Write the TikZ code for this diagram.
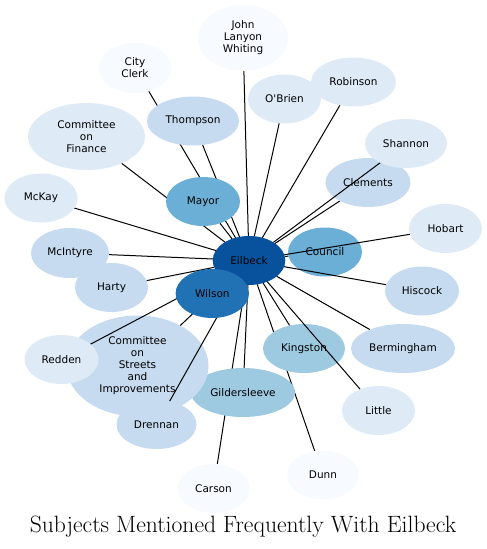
\documentclass[tikz,border=0pt]{standalone}
\usepackage{fontspec}
\newfontfamily\nodefont{DejaVu Sans}
\usetikzlibrary{shapes.geometric}
\definecolor{bA}{RGB}{247,251,255}
\definecolor{bB}{RGB}{222,235,247}
\definecolor{bC}{RGB}{198,219,239}
\definecolor{bD}{RGB}{158,202,225}
\definecolor{bE}{RGB}{107,174,214}
\definecolor{bF}{RGB}{33,113,181}
\definecolor{bG}{RGB}{8,81,156}
\tikzset{
  shp/.style={ellipse, inner sep=0pt, outer sep=0pt, draw=none},
  sz/.style 2 args={minimum width=#1*2pt, minimum height=#2*2pt},
  lbl/.style={shp, align=center, text=black, font=\nodefont\fontsize{10.5}{12}\selectfont},
  conn/.style={draw=black, line width=1pt},
}
\begin{document}
\begin{tikzpicture}[x=1pt,y=-1pt]
\useasboundingbox (0,0) rectangle (487,549);
% invisible shapes (for clipping the connectors)
\path node[shp,sz={36.3}{24.5}] (eil) at (249,260.5) {};
\path node[shp,sz={45}{33}]     (jlw) at (243,38) {};
\path node[shp,sz={36.5}{25}]   (clk) at (135,68) {};
\path node[shp,sz={46}{24.5}]   (tho) at (193,121) {};
\path node[shp,sz={58.5}{33.5}] (cof) at (86.5,136.5) {};
\path node[shp,sz={36.5}{24.5}] (mck) at (41,198) {};
\path node[shp,sz={37}{24.5}]   (may) at (203,201.5) {};
\path node[shp,sz={39}{25}]     (mci) at (70,253) {};
\path node[shp,sz={36.5}{24.5}] (har) at (111.5,287.5) {};
\path node[shp,sz={37}{24.5}]   (cou) at (325,252) {};
\path node[shp,sz={36.5}{24.5}] (hob) at (445.5,228.5) {};
\path node[shp,sz={42.5}{24.5}] (cle) at (368,182.5) {};
\path node[shp,sz={41}{24.5}]   (sha) at (406,143.5) {};
\path node[shp,sz={36.5}{24.5}] (obr) at (284.5,99) {};
\path node[shp,sz={42.5}{24.5}] (rob) at (353.5,82) {};
\path node[shp,sz={37}{24.5}]   (his) at (422,291) {};
\path node[shp,sz={52}{24.5}]   (ber) at (403,348.5) {};
\path node[shp,sz={36}{24.5}]   (dun) at (323,475) {};
\path node[shp,sz={41}{24.5}]   (kin) at (304,348.5) {};
\path node[shp,sz={36.5}{24.5}] (lit) at (378.5,410.5) {};
\path node[shp,sz={36}{24.5}]   (car) at (213.5,488.5) {};
\path node[shp,sz={52}{24.5}]   (gil) at (243,392.5) {};
\path node[shp,sz={71}{50.5}]   (cos) at (137.5,366) {};
\path node[shp,sz={37}{24.5}]   (red) at (61.5,359.5) {};
\path node[shp,sz={40}{24.5}]   (dre) at (156.5,424.5) {};
\path node[shp,sz={36.7}{24.5}] (wil) at (212.3,293.5) {};
% drawing in stacking order
\node[lbl,sz={36.3}{24.5},fill=bG] at (eil) {Eilbeck};
\draw[conn] (eil) -- (jlw);
\node[lbl,sz={45}{33},fill=bA] at (jlw) {John\\Lanyon\\Whiting};
\draw[conn] (eil) -- (clk);
\node[lbl,sz={36.5}{25},fill=bA] at (clk) {City\\Clerk};
\draw[conn] (eil) -- (tho);
\node[lbl,sz={46}{24.5},fill=bC] at (tho) {Thompson};
\draw[conn] (eil) -- (cof);
\node[lbl,sz={58.5}{33.5},fill=bB] at (cof) {Committee\\on\\Finance};
\draw[conn] (eil) -- (mck);
\node[lbl,sz={36.5}{24.5},fill=bB] at (mck) {McKay};
\draw[conn] (eil) -- (may);
\node[lbl,sz={37}{24.5},fill=bE] at (may) {Mayor};
\draw[conn] (eil) -- (mci);
\node[lbl,sz={39}{25},fill=bC] at (mci) {McIntyre};
\draw[conn] (eil) -- (har);
\node[lbl,sz={36.5}{24.5},fill=bC] at (har) {Harty};
\draw[conn] (eil) -- (cou);
\node[lbl,sz={37}{24.5},fill=bE] at (cou) {Council};
\draw[conn] (eil) -- (hob);
\node[lbl,sz={36.5}{24.5},fill=bB] at (hob) {Hobart};
\draw[conn] (eil) -- (cle);
\node[lbl,sz={42.5}{24.5},fill=bC] at (cle) {Clements};
\draw[conn] (eil) -- (sha);
\node[lbl,sz={41}{24.5},fill=bB] at (sha) {Shannon};
\draw[conn] (eil) -- (obr);
\node[lbl,sz={36.5}{24.5},fill=bB] at (obr) {O'Brien};
\draw[conn] (eil) -- (rob);
\node[lbl,sz={42.5}{24.5},fill=bB] at (rob) {Robinson};
\draw[conn] (eil) -- (his);
\node[lbl,sz={37}{24.5},fill=bC] at (his) {Hiscock};
\draw[conn] (eil) -- (ber);
\node[lbl,sz={52}{24.5},fill=bC] at (ber) {Bermingham};
\draw[conn] (eil) -- (dun);
\node[lbl,sz={36}{24.5},fill=bA] at (dun) {Dunn};
\draw[conn] (eil) -- (kin);
\node[lbl,sz={41}{24.5},fill=bD] at (kin) {Kingston};
\draw[conn] (eil) -- (lit);
\node[lbl,sz={36.5}{24.5},fill=bB] at (lit) {Little};
\draw[conn] (eil) -- (car);
\node[lbl,sz={36}{24.5},fill=bA] at (car) {Carson};
\draw[conn] (eil) -- (gil);
\node[lbl,sz={52}{24.5},fill=bD] at (gil) {Gildersleeve};
\draw[conn] (eil) -- (cos);
\node[lbl,sz={71}{50.5},fill=bC] at (cos) {Committee\\on\\Streets\\and\\Improvements};
\draw[conn] (eil) -- (red);
\node[lbl,sz={37}{24.5},fill=bB] at (red) {Redden};
\draw[conn] (eil) -- (dre);
\node[lbl,sz={40}{24.5},fill=bC] at (dre) {Drennan};
\node[lbl,sz={36.7}{24.5},fill=bF] at (wil) {Wilson};
% title
\node (title) at (243,527) {\fontsize{23.6}{28}\selectfont Subjects Mentioned Frequently With Eilbeck};
\end{tikzpicture}
\end{document}
